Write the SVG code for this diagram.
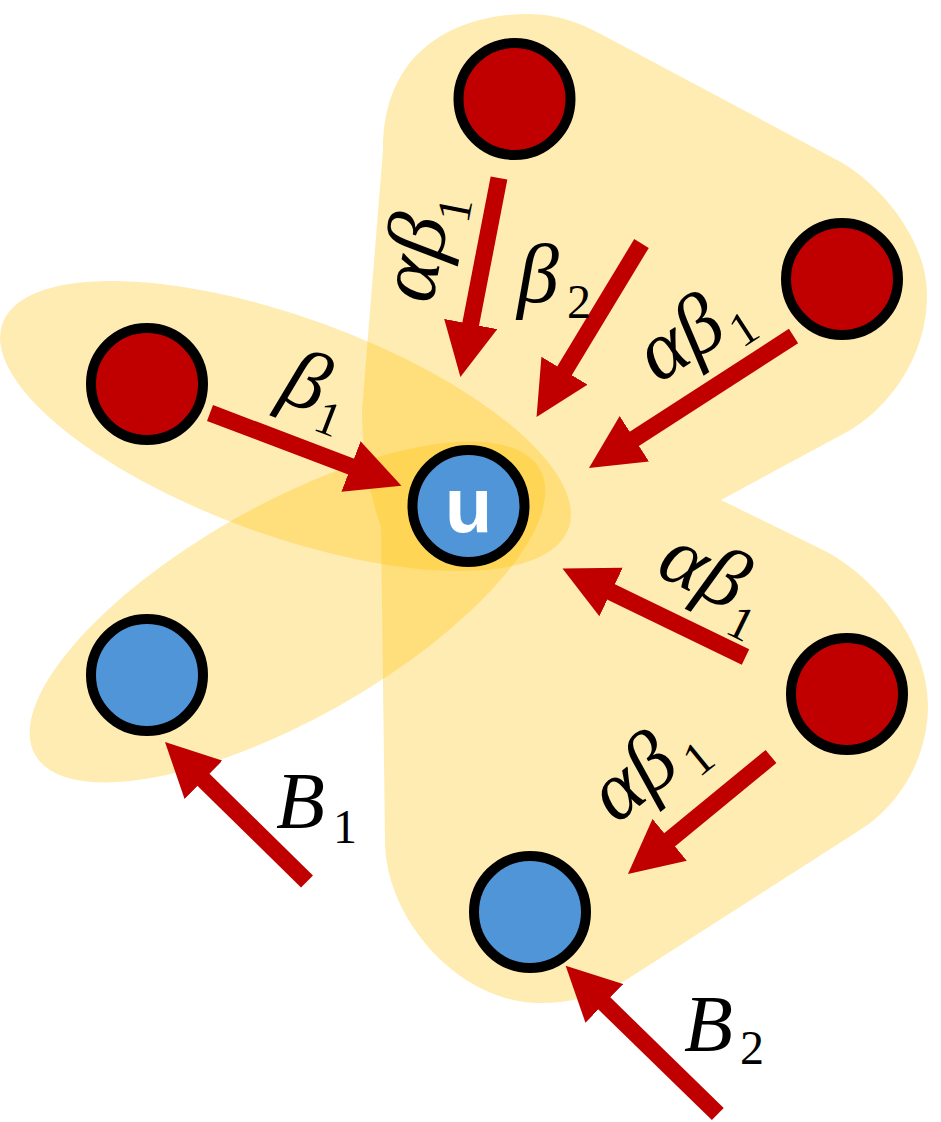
<svg xmlns="http://www.w3.org/2000/svg" width="941" height="1122" viewBox="0 0 941 1122">
<style>
.grp{fill:#FFC000;fill-opacity:0.3;stroke:none}
.red{fill:#C00000;stroke:#000;stroke-width:10}
.blue{fill:#4F95D8;stroke:#000;stroke-width:10}
.arr{stroke:#C00000;stroke-width:17;fill:none;marker-end:url(#ah)}
.lab{font-family:"Liberation Serif","DejaVu Serif",serif;font-size:84px;font-style:italic;fill:#000}
.lb{font-size:80px}
.sub{font-size:48px;font-style:normal}
.u{font-family:"Liberation Sans",Arial,sans-serif;font-weight:bold;font-size:78px;fill:#fff;text-anchor:middle}
</style>
<defs>
<marker id="ah" markerUnits="userSpaceOnUse" markerWidth="54" markerHeight="54" viewBox="0 0 54 54" refX="1" refY="27" orient="auto">
<path d="M0,0 L54,27 L0,54 Z" fill="#C00000"/>
</marker>
</defs>
<g id="groups">
<path id="group-big" class="grp" d="M527,14 C565,14 590,28 612,40 L837,160 C881,183.5 927,240 927,295 C927,360 885,412 845,433 L721,500 L823,550 C872,574 928,640 928,705 C928,760 898,806 860,830 L626,980 C600,996 570,1003 540,1003 C460,1003 385,920 385,840 L381,527 C368,490 362,450 362,410 L383,150 C383,40 470,14 527,14 Z"/>
<ellipse id="group-e1" class="grp" cx="285.5" cy="426" rx="301" ry="109" transform="rotate(19.9 285.5 426)"/>
<ellipse id="group-e2" class="grp" cx="287.5" cy="612" rx="290" ry="107" transform="rotate(-29.5 287.5 612)"/>
</g>
<g id="connectors">
<line class="arr" x1="499" y1="178" x2="470.5" y2="325"/>
<line class="arr" x1="641.5" y1="243.5" x2="564" y2="371.6"/>
<line class="arr" x1="793.5" y1="336" x2="633.5" y2="439.3"/>
<line class="arr" x1="210" y1="413" x2="351.9" y2="466.9"/>
<line class="arr" x1="745.5" y1="657" x2="610.2" y2="591.5"/>
<line class="arr" x1="771" y1="756.5" x2="668.9" y2="840.4"/>
<line class="arr" x1="307" y1="881.5" x2="202.8" y2="779.1"/>
<line class="arr" x1="717.8" y1="1114" x2="603.6" y2="1002.7"/>
</g>
<g id="node-top"><circle class="red" cx="514.5" cy="99" r="56"/></g>
<g id="node-right"><circle class="red" cx="842" cy="279" r="56"/></g>
<g id="node-left"><circle class="red" cx="147" cy="384" r="56"/></g>
<g id="node-lowright"><circle class="red" cx="847" cy="694" r="56"/></g>
<g id="node-u"><circle class="blue" cx="468.5" cy="506" r="56"/><text class="u" x="468.5" y="532">u</text></g>
<g id="node-leftblue"><circle class="blue" cx="147" cy="675" r="56"/></g>
<g id="node-bottom"><circle class="blue" cx="530" cy="912" r="56"/></g>
<g id="labels">
<text class="lab" transform="translate(432,305) rotate(-79)"><tspan x="0" y="0">αβ</tspan><tspan class="sub" x="86" y="20">1</tspan></text>
<text class="lab" transform="translate(517,302)"><tspan x="0" y="0">β</tspan><tspan class="sub" x="50" y="16">2</tspan></text>
<text class="lab" transform="translate(658,384) rotate(-33)"><tspan x="0" y="0">αβ</tspan><tspan class="sub" x="90" y="16">1</tspan></text>
<text class="lab" transform="translate(277,399) rotate(21)"><tspan x="0" y="0">β</tspan><tspan class="sub" x="43" y="16">1</tspan></text>
<text class="lab" transform="translate(654,574) rotate(26)"><tspan x="0" y="0">αβ</tspan><tspan class="sub" x="88" y="22">1</tspan></text>
<text class="lab" transform="translate(616,825) rotate(-39)"><tspan x="0" y="0">αβ</tspan><tspan class="sub" x="94" y="16">1</tspan></text>
<text class="lab lb" transform="translate(276,828)"><tspan x="0" y="0">B</tspan><tspan class="sub" x="57" y="15">1</tspan></text>
<text class="lab lb" transform="translate(684,1051)"><tspan x="0" y="0">B</tspan><tspan class="sub" x="56" y="13">2</tspan></text>
</g>
</svg>
